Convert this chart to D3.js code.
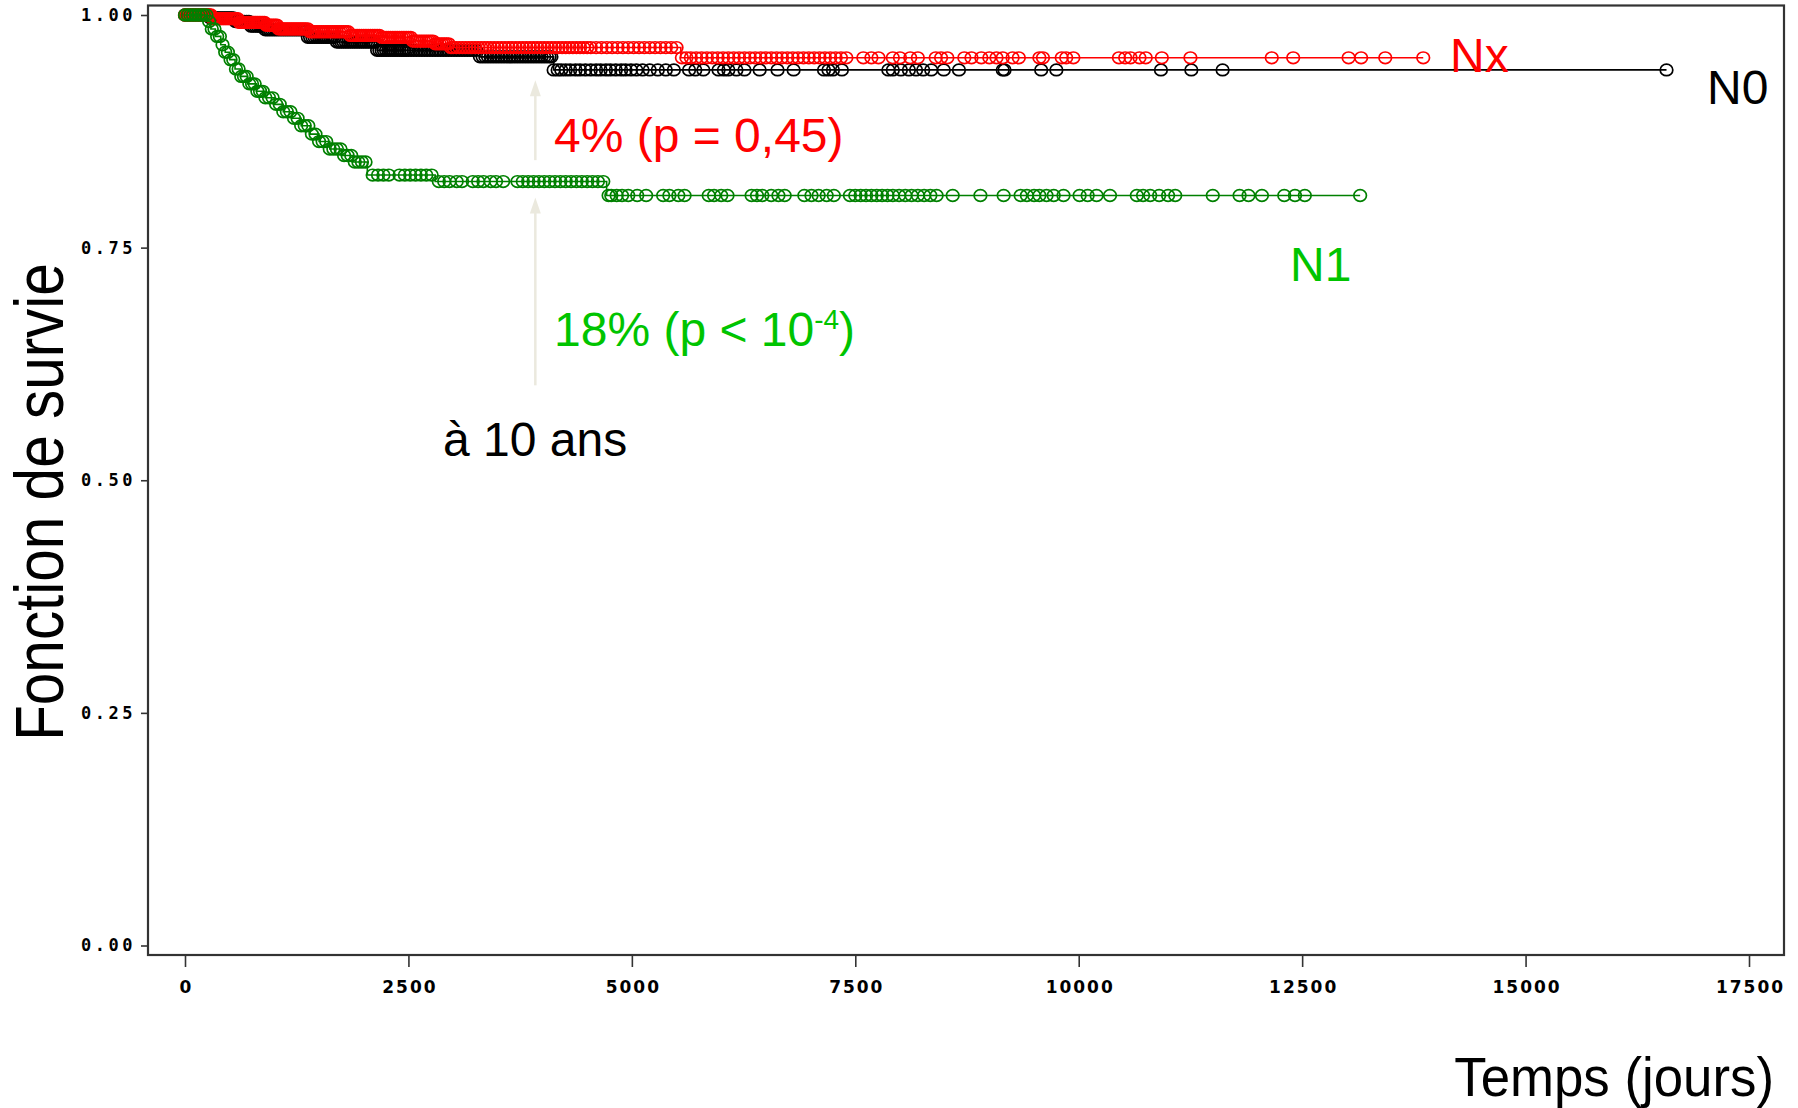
<!DOCTYPE html>
<html><head><meta charset="utf-8">
<script src="https://cdn.jsdelivr.net/npm/d3@7"></script>
<style>body{margin:0;background:#fff} svg{display:block}</style>
</head><body><svg id="c" width="1798" height="1108"></svg>
<script>
// ---- data ----
const xTicks = [0,2500,5000,7500,10000,12500,15000,17500];
const yTicks = [0,0.25,0.5,0.75,1];
const yTickLabels = ["0.00","0.25","0.50","0.75","1.00"];

// Kaplan-Meier steps [time(days), survival]
const n0Steps = [[0,1],[280,0.997],[550,0.993],[740,0.988],[880,0.984],[1370,0.976],[1700,0.971],[2150,0.962],[3300,0.955],[4125,0.941]];
const n0End = 16577;
const n0Censor = [0,25,60,100,140,180,220,260,300,340,380,420,460,500,540,590,640,690,740,790,840,900,950,1000,1050,1100,1150,1200,1250,1300,1350,1400,1450,1500,1550,1600,1650,1700,1750,1800,1850,1900,1950,2000,2050,2100,2150,2200,2250,2300,2350,2400,2450,2500,2560,2620,2680,2740,2800,2860,2920,2980,3040,3100,3160,3220,3300,3360,3420,3480,3540,3600,3660,3720,3780,3840,3900,3960,4020,4080,4125,4170,4210,4260,4310,4370,4420,4480,4540,4600,4650,4710,4760,4820,4880,4930,4990,5050,5120,5200,5290,5380,5470,5640,5710,5800,5970,6030,6080,6170,6260,6430,6630,6810,7150,7200,7250,7350,7870,7920,8010,8100,8180,8260,8350,8490,8660,9150,9170,9580,9750,10920,11260,11610,16577,
  40,80,120,160,200,240,280,320,360,400,440,480,520,565,615,665,715,765,815,870,925,975,1025,1075,1125,1175,1225,1275,1325,1375,1425,1475,1525,1575,1625,1675,1725,1775,1825,1875,1925,1975,2025,2075,2125,2175,2225,2275,2325,2375,2425,2475,2530,2590,2650,2710,2770,2830,2890,2950,3010,3070,3130,3190,3260,3330,3390,3450,3510,3570,3630,3690,3750,3810,3870,3930,3990,4050,4100];

const nxSteps = [[0,1],[300,0.996],[600,0.992],[900,0.989],[1050,0.985],[1400,0.982],[1850,0.978],[2200,0.976],[2530,0.972],[2800,0.969],[2970,0.965],[5548,0.954]];
const nxEnd = 13855;
const nxCensor = [0,30,70,110,150,190,230,270,310,350,390,430,470,510,550,590,630,670,710,750,790,830,870,910,950,990,1030,1070,1110,1150,1190,1230,1270,1310,1350,1400,1450,1500,1550,1600,1650,1700,1750,1800,1850,1900,1950,2000,2050,2100,2150,2200,2250,2300,2350,2400,2450,2500,2550,2600,2650,2700,2750,2800,2850,2900,2950,3000,3070,3140,3210,3280,3350,3420,3500,3580,3660,3740,3820,3900,3980,4060,4140,4220,4300,4380,4460,4540,4600,4660,4720,4780,4840,4900,4960,5020,5080,5140,5200,5260,5320,5380,5440,5500,5560,5610,5660,5720,5780,5840,5900,5960,6020,6080,6140,6200,6260,6320,6380,6440,6500,6560,6620,6680,6740,6800,6860,6920,6980,7040,7100,7160,7220,7280,7340,7400,7590,7680,7760,7920,8000,8115,8200,8400,8460,8530,8720,8800,8910,9000,9080,9150,9260,9330,9560,9600,9810,9860,9940,10450,10520,10580,10680,10750,10930,11250,12160,12400,13020,13160,13430,13855,
  15,50,90,130,170,210,250,290,330,370,410,450,490,530,570,610,650,690,730,770,810,850,890,930,970,1010,1050,1090,1130,1170,1210,1250,1290,1330,1375,1425,1475,1525,1575,1625,1675,1725,1775,1825,1875,1925,1975,2025,2075,2125,2175,2225,2275,2325,2375,2425,2475,2525,2575,2625,2675,2725,2775,2825,2875,2925,2975,3035,3105,3175,3245,3315,3385,3460,3540,3620,3700,3780,3860,3940,4020,4100,4180,4260,4340,4420,4500];

const n1Steps = [[0,1],[250,0.993],[290,0.985],[340,0.977],[400,0.968],[450,0.96],[500,0.952],[560,0.942],[620,0.934],[700,0.926],[800,0.918],[900,0.911],[1000,0.904],[1100,0.896],[1200,0.889],[1300,0.881],[1400,0.872],[1500,0.864],[1620,0.856],[1750,0.849],[1880,0.842],[2040,0.828],[2800,0.821],[4718,0.806]];
const n1End = 13149;
const n1Censor = [0,30,60,90,120,150,180,210,240,270,300,330,360,390,420,450,480,510,540,570,600,630,660,690,720,750,780,810,840,870,900,940,980,1020,1060,1100,1140,1180,1220,1260,1300,1340,1380,1420,1460,1500,1540,1580,1620,1660,1700,1740,1780,1820,1860,1900,1940,1980,2020,2100,2160,2220,2280,2400,2460,2520,2580,2640,2700,2760,2840,2900,2960,3040,3100,3220,3280,3340,3420,3480,3560,3720,3780,3840,3900,3960,4020,4080,4140,4200,4260,4320,4380,4440,4500,4560,4620,4680,4740,4770,4830,4890,4960,5060,5160,5350,5420,5520,5590,5860,5920,6000,6070,6340,6400,6460,6560,6640,6710,6930,7010,7090,7180,7260,7440,7500,7560,7620,7680,7740,7800,7860,7920,7990,8060,8130,8200,8270,8340,8410,8590,8900,9160,9350,9420,9500,9560,9640,9720,9830,10010,10100,10200,10350,10650,10720,10800,10900,11000,11080,11500,11800,11900,12050,12300,12420,12530,13149];

const series = [
  {name:"N0", steps:n0Steps, end:n0End, censor:n0Censor, color:"#000000"},
  {name:"Nx", steps:nxSteps, end:nxEnd, censor:nxCensor, color:"#ff0000"},
  {name:"N1", steps:n1Steps, end:n1End, censor:n1Censor, color:"#008000"}
];

// arrows at ~10 years
const arrowTime = 3920;
const arrows = [{from:0.844, to:0.930},{from:0.602, to:0.804}];

// ---- drawing ----
const svg = d3.select("#c");
const x = d3.scaleLinear().domain([0,17500]).range([185,1749]);
const y = d3.scaleLinear().domain([0,1]).range([945.5,15]);

const axisColor = "#333";

// frame
svg.append("rect").attr("x",148).attr("y",5.5).attr("width",1636).attr("height",949.5)
  .attr("fill","none").attr("stroke",axisColor).attr("stroke-width",2.2);

// y axis
const gy = svg.append("g").attr("transform","translate(148,0)")
  .call(d3.axisLeft(y).tickValues(yTicks).tickSize(7).tickPadding(5)
    .tickFormat((d,i)=>yTickLabels[i]));
gy.select(".domain").remove();
gy.selectAll("line").attr("stroke",axisColor).attr("stroke-width",1.6);
gy.selectAll("text").attr("font-family","'DejaVu Sans Mono',monospace").attr("font-weight","bold")
  .attr("font-size",17).attr("letter-spacing",3.5).attr("fill","#000");

// x axis
const gx = svg.append("g").attr("transform","translate(0,955)")
  .call(d3.axisBottom(x).tickValues(xTicks).tickSize(12).tickPadding(14).tickFormat(d3.format("d")));
gx.select(".domain").remove();
gx.selectAll("line").attr("stroke",axisColor).attr("stroke-width",1.6);
gx.selectAll("text").attr("font-family","'DejaVu Sans',sans-serif").attr("font-weight","bold")
  .attr("font-size",17).attr("letter-spacing",2).attr("dx",1).attr("fill","#000");

// arrows
const arrowColor = "#ebe9de";
arrows.forEach(a=>{
  const ax = x(arrowTime);
  svg.append("line").attr("x1",ax).attr("x2",ax).attr("y1",y(a.from)).attr("y2",y(a.to)+10)
    .attr("stroke",arrowColor).attr("stroke-width",2.5);
  const ty = y(a.to);
  svg.append("path").attr("d",`M${ax},${ty} L${ax-5.5},${ty+16} L${ax+5.5},${ty+16} Z`).attr("fill",arrowColor);
});

// curves
function surv(steps,t){ let s=steps[0][1]; for(const [tt,v] of steps){ if(tt<=t) s=v; } return s; }
const line = d3.line().x(d=>x(d[0])).y(d=>y(d[1])).curve(d3.curveStepAfter);
series.forEach(s=>{
  const pts = s.steps.concat([[s.end, s.steps[s.steps.length-1][1]]]);
  const g = svg.append("g");
  g.append("path").attr("d",line(pts)).attr("fill","none").attr("stroke",s.color).attr("stroke-width",1.6);
  g.selectAll("ellipse").data(s.censor.slice().sort((a,b)=>a-b)).join("ellipse")
    .attr("cx",d=>x(d)).attr("cy",d=>y(surv(s.steps,d)))
    .attr("rx",6.3).attr("ry",5.8)
    .attr("fill","none").attr("stroke",s.color).attr("stroke-width",1.7);
});

// texts
const ff = "'Liberation Sans',Arial,Helvetica,sans-serif";
function txt(str,xp,yp,color,size){
  return svg.append("text").attr("x",xp).attr("y",yp).attr("fill",color)
    .attr("font-family",ff).attr("font-size",size).text(str);
}
txt("4% (p = 0,45)",554,152,"#ff0000",48);
const t18 = svg.append("text").attr("x",554).attr("y",346).attr("fill","#00c400")
  .attr("font-family",ff).attr("font-size",48);
t18.append("tspan").text("18% (p < 10");
t18.append("tspan").attr("font-size",28).attr("dy",-17).text("-4");
t18.append("tspan").attr("dy",17).text(")");
txt("à 10 ans",443,456,"#000",48);
txt("Nx",1450,72,"#ff0000",48);
txt("N0",1707,104,"#000",48);
txt("N1",1290,281,"#00c400",48);

svg.append("text").attr("transform","translate(63,502) rotate(-90) scale(0.86,1)")
  .attr("text-anchor","middle").attr("font-family",ff).attr("font-size",68).attr("fill","#000")
  .text("Fonction de survie");
svg.append("text").attr("transform","translate(1774,1096) scale(0.96,1)")
  .attr("text-anchor","end").attr("font-family",ff).attr("font-size",55).attr("fill","#000")
  .text("Temps (jours)");
</script></body></html>
